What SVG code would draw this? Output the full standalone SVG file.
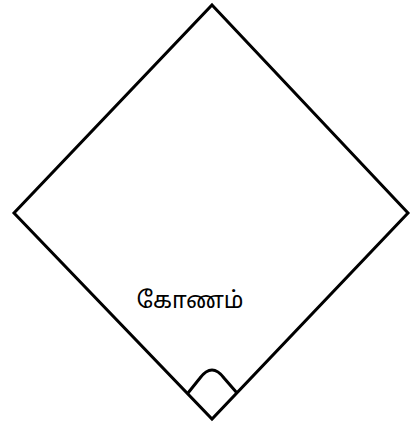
<svg xmlns="http://www.w3.org/2000/svg" width="411" height="427" viewBox="0 0 411 427">
<style>
.edge{fill:none;stroke:#000;stroke-width:3;stroke-linejoin:miter}
.lbl{font-family:"Noto Sans Tamil","Latha","Noto Sans",sans-serif;font-size:23px;fill:#000}
</style>
<rect width="411" height="427" fill="#fff"/>
<g id="diamond">
<polygon class="edge" points="212,5 408,213 212,419 14,213"/>
</g>
<g id="angle">
<path class="edge" d="M188,393 L200,378 Q212,362 224,378 L237,393"/>
</g>
<g id="label">
<text class="lbl" x="190" y="308" text-anchor="middle">கோணம்</text>
</g>
</svg>
